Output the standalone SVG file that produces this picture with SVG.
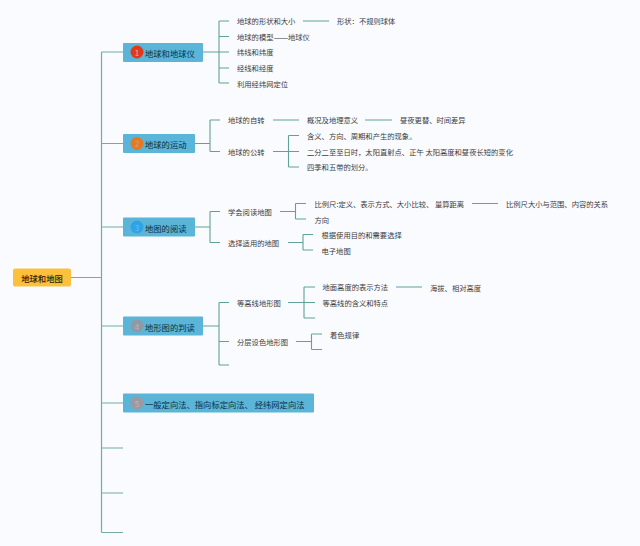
<svg xmlns="http://www.w3.org/2000/svg" width="640" height="546" viewBox="0 0 640 546">
<style>
text{font-family:"Noto Sans CJK SC","Liberation Sans",sans-serif;dominant-baseline:central}
.l{font-size:7.3px;fill:#3c3c3c;transform:translateY(.3px)}
.t{font-size:8.3px;fill:#0b3044}
.r{font-size:8.3px;fill:#2a1c05;font-weight:500;text-anchor:middle}
.n{font-size:8px;text-anchor:middle;fill-opacity:.3;fill:#fff}
.box{fill:#5ab5d8}
#connectors path{fill:none;stroke:#5fa398;stroke-width:1.1}
#connectors .m{stroke-width:1.2;stroke:#74aca4}
</style>
<rect width="640" height="546" fill="#fafbff"/>
<g id="connectors">
<path class="m" d="M71 277.500H101.500M101.500 52V532.500M101.500 52H123M101.500 143.500H123M101.500 227H123M101.500 326H123M101.500 403H123M101.500 448H123M101.500 493H123M101.500 532.500H123"/>
<path d="M203 52H219M219 21V83M219 21H229M219 36.500H229M219 52H229M219 68H229M219 83H229M303 21H329"/>
<path d="M195 143.500H210M210 120V151.500M210 120H220M210 151.500H220M273 120H299M365 120H392M273 151.500H299M288.500 135.500V167M288.500 135.500H299M288.500 167H299"/>
<path d="M195 227H210M210 211.500V242.500M210 211.500H220M210 242.500H220M280 211.500H295.500M295.500 203.500V219M295.500 203.500H306M295.500 219H306M472 203.500H498M288 242.500H303M303 234.500V250M303 234.500H313M303 250H313"/>
<path d="M203 326H219M219 302.500V365M219 302.500H229M219 341.500H229M219 365H229M288 302.500H315M304 287V318M304 287H315M304 318H315M396 287H422M296 341.500H311.500M311.500 334V349.500M311.500 334H322M311.500 349.500H322"/>
</g>
<g id="root"><rect x="13" y="268.500" width="58" height="18" rx="2" fill="#fbc13d"/><text class="r" x="42" y="277.500">地球和地图</text></g>
<g id="topic1"><rect class="box" x="123" y="43" width="80" height="19" rx="1"/><circle cx="137" cy="52" r="6.500" fill="#e03a1c"/><text class="n" x="137" y="52" style="fill-opacity:.6">1</text><text class="t" x="145" y="52.500">地球和地球仪</text></g>
<g id="topic2"><rect class="box" x="123" y="134" width="72" height="19" rx="1"/><circle cx="137" cy="143.500" r="6.500" fill="#e07a25"/><text class="n" x="137" y="143.500">2</text><text class="t" x="145" y="143.500">地球的运动</text></g>
<g id="topic3"><rect class="box" x="123" y="217.500" width="72" height="19" rx="1"/><circle cx="137" cy="227" r="6.500" fill="#2ea4e8"/><text class="n" x="137" y="227">3</text><text class="t" x="145" y="227.500">地图的阅读</text></g>
<g id="topic4"><rect class="box" x="123" y="316.500" width="80" height="19" rx="1"/><circle cx="137" cy="326" r="6.500" fill="#8f9aa5"/><text class="n" x="137" y="326">4</text><text class="t" x="145" y="326.500">地形图的判读</text></g>
<g id="topic5"><rect class="box" x="123" y="393.500" width="191" height="19" rx="1"/><circle cx="137" cy="403" r="6.500" fill="#9c9aa0"/><text class="n" x="137" y="403">5</text><text class="t" x="145" y="403.500">一般定向法、指向标定向法、 经纬网定向法</text></g>
<g id="n1"><text class="l" x="237" y="20.800">地球的形状和大小</text></g>
<g id="n2"><text class="l" x="337" y="20.800">形状：不规则球体</text></g>
<g id="n3"><text class="l" x="237" y="36.300">地球的模型<tspan style="font-size:8.900px">——</tspan><tspan x="288">地球仪</tspan></text></g>
<g id="n4"><text class="l" x="237" y="51.800">纬线和纬度</text></g>
<g id="n5"><text class="l" x="237" y="67.800">经线和经度</text></g>
<g id="n6"><text class="l" x="237" y="83.300">利用经纬网定位</text></g>
<g id="n7"><text class="l" x="228" y="119.800">地球的自转</text></g>
<g id="n8"><text class="l" x="307" y="119.800">概况及地理意义</text></g>
<g id="n9"><text class="l" x="400" y="119.800">昼夜更替、时间差异</text></g>
<g id="n10"><text class="l" x="228" y="151.300">地球的公转</text></g>
<g id="n11"><text class="l" x="307" y="135.300">含义、方向、周期和产生的现象。</text></g>
<g id="n12"><text class="l" x="307" y="151.300">二分二至至日时，太阳直射点、正午 太阳高度和昼夜长短的变化</text></g>
<g id="n13"><text class="l" x="307" y="166.800">四季和五带的划分。</text></g>
<g id="n14"><text class="l" x="228" y="211.300">学会阅读地图</text></g>
<g id="n15"><text class="l" x="314.500" y="203.300">比例尺:定义、表示方式、大小比较、 量算距离</text></g>
<g id="n16"><text class="l" x="506" y="203.300">比例尺大小与范围、内容的关系</text></g>
<g id="n17"><text class="l" x="314.500" y="219.300">方向</text></g>
<g id="n18"><text class="l" x="228" y="242.300">选择适用的地图</text></g>
<g id="n19"><text class="l" x="321.500" y="234.300">根据使用目的和需要选择</text></g>
<g id="n20"><text class="l" x="321.500" y="250.300">电子地图</text></g>
<g id="n21"><text class="l" x="237" y="302.300">等高线地形图</text></g>
<g id="n22"><text class="l" x="322.500" y="286.800">地面高度的表示方法</text></g>
<g id="n23"><text class="l" x="430" y="287.300">海拔、相对高度</text></g>
<g id="n24"><text class="l" x="322.500" y="302.300">等高线的含义和特点</text></g>
<g id="n25"><text class="l" x="237" y="341.300">分层设色地形图</text></g>
<g id="n26"><text class="l" x="330" y="334.300">着色规律</text></g>
</svg>
